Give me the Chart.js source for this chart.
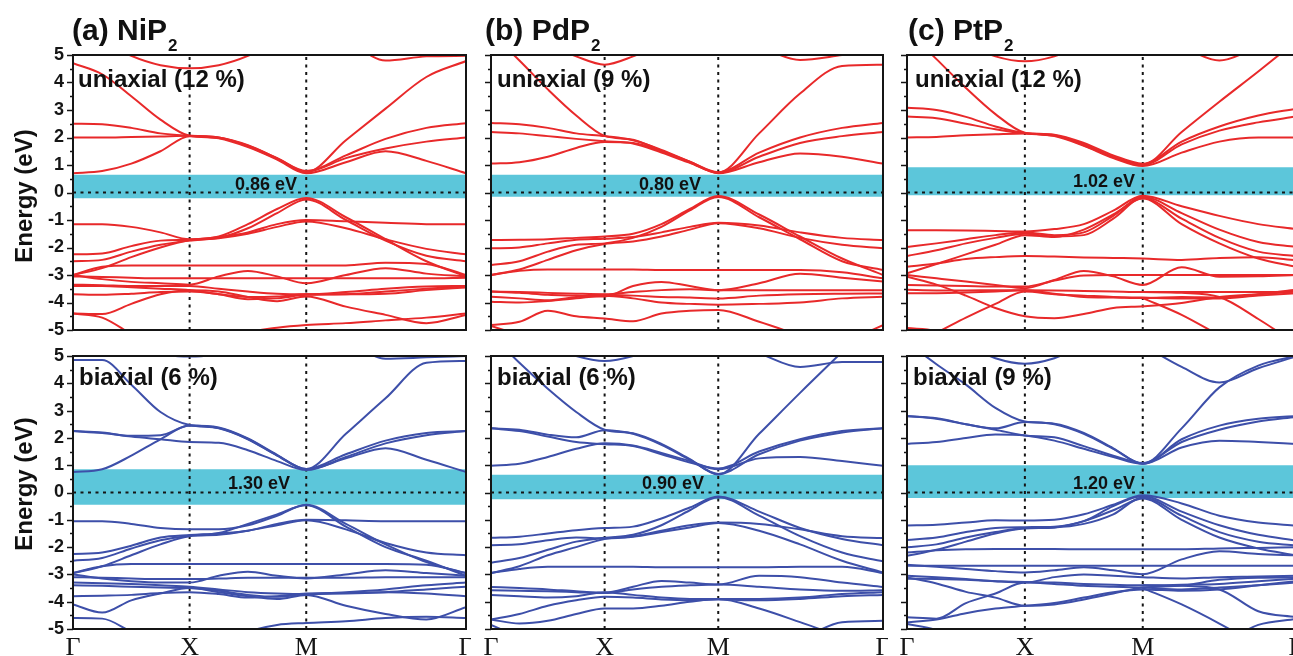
<!DOCTYPE html>
<html>
<head>
<meta charset="utf-8">
<script src="https://cdn.jsdelivr.net/npm/chart.js@4.4.0/dist/chart.umd.min.js"></script>
<style>
  body { margin: 0; width: 1293px; height: 656px; overflow: hidden; background: #fff; position: relative;
         font-family: 'Liberation Sans', Arial, sans-serif; color: #111; }
  canvas { position: absolute; }
  .lbl { position: absolute; font-weight: bold; line-height: 1; white-space: nowrap; }
  .title { font-size: 30px; }
  .title span { font-size: 17px; position: relative; top: 11px; margin-left: 1px; }
  .strain { font-size: 24px; }
  .gap { font-size: 18px; }
  .ylab { font-size: 24px; transform: translate(-50%, -50%) rotate(-90deg); }
</style>
</head>
<body>
<canvas id="niUni"></canvas>
<canvas id="niBi"></canvas>
<canvas id="pdUni"></canvas>
<canvas id="pdBi"></canvas>
<canvas id="ptUni"></canvas>
<canvas id="ptBi"></canvas>

<div class="lbl title" style="left:72px;top:15px">(a) NiP<span>2</span></div>
<div class="lbl title" style="left:485px;top:15px">(b) PdP<span>2</span></div>
<div class="lbl title" style="left:908px;top:15px">(c) PtP<span>2</span></div>
<div class="lbl ylab" style="left:24px;top:196px">Energy (eV)</div>
<div class="lbl ylab" style="left:24px;top:484px">Energy (eV)</div>

<script>
// k-path positions (Γ, X, M, Γ) for each compound
const kNi = [0, 0.25, 0.5, 0.75, 1, 1.25, 1.5, 1.75, 2, 2.34, 2.68, 3.03, 3.37]
const kPd = [0, 0.25, 0.5, 0.75, 1, 1.25, 1.5, 1.75, 2, 2.36, 2.72, 3.09, 3.45]
const kPt = [0, 0.25, 0.5, 0.75, 1, 1.25, 1.5, 1.75, 2, 2.33, 2.65, 2.98, 3.30]
const kLabels = ['Γ', 'X', 'M', 'Γ']

// energies (eV) of each band at the k points above
const niUniBands = [
  [0.70, 0.78, 1.05, 1.50, 2.05, 1.97, 1.65, 1.20, 0.70, 1.10, 1.50, 1.15, 0.70],
  [2.00, 2.00, 2.02, 2.04, 2.06, 2.00, 1.70, 1.25, 0.76, 1.25, 1.60, 1.85, 2.00],
  [2.50, 2.48, 2.35, 2.15, 2.06, 2.00, 1.72, 1.25, 0.78, 1.35, 1.95, 2.35, 2.52],
  [4.70, 4.30, 3.50, 2.65, 2.06, 1.98, 1.68, 1.22, 0.74, 1.90, 3.05, 4.20, 4.78],
  [null, 5.52, 4.97, 4.63, 4.52, 4.63, 4.97, 5.52, null, null, null, null, null],
  [null, null, null, null, null, null, null, null, null, 5.60, 4.80, 4.95, 4.97],
  [-1.15, -1.15, -1.25, -1.45, -1.70, -1.60, -1.15, -0.60, -0.20, -0.90, -1.70, -2.50, -3.05],
  [-2.25, -2.22, -1.95, -1.75, -1.72, -1.62, -1.45, -1.15, -1.00, -1.05, -1.10, -1.15, -1.15],
  [-2.50, -2.45, -2.15, -1.90, -1.75, -1.65, -1.30, -0.75, -0.25, -1.00, -1.75, -2.30, -2.50],
  [-3.00, -2.75, -2.35, -2.00, -1.74, -1.66, -1.50, -1.25, -1.05, -1.30, -1.70, -2.05, -2.25],
  [-3.00, -2.70, -2.65, -2.65, -2.65, -2.65, -2.65, -2.65, -2.65, -2.65, -2.55, -2.60, -3.00],
  [-3.00, -3.15, -3.25, -3.30, -3.35, -3.05, -2.85, -3.05, -3.30, -3.00, -2.75, -2.95, -3.05],
  [-3.05, -3.07, -3.10, -3.12, -3.12, -3.12, -3.12, -3.12, -3.12, -3.12, -3.12, -3.12, -3.10],
  [-3.35, -3.37, -3.40, -3.40, -3.40, -3.50, -3.60, -3.68, -3.70, -3.62, -3.50, -3.42, -3.40],
  [-3.40, -3.40, -3.45, -3.50, -3.55, -3.70, -3.80, -3.78, -3.70, -3.70, -3.68, -3.55, -3.45],
  [-3.70, -3.72, -3.68, -3.62, -3.60, -3.70, -3.88, -3.85, -3.72, -3.70, -3.60, -3.50, -3.40],
  [-4.40, -4.42, -4.05, -3.70, -3.55, -3.60, -3.80, -3.95, -3.78, -4.15, -4.45, -4.75, -4.45],
  [-4.40, -4.55, -5.15, null, null, null, null, null, null, null, null, null, null],
  [null, null, null, null, null, -5.60, -5.10, -4.92, -4.82, -4.75, -4.65, -4.55, -4.40]
]
const niBiBands = [
  [0.75, 0.85, 1.35, 1.95, 2.45, 2.35, 1.95, 1.35, 0.85, 1.25, 1.62, 1.20, 0.75],
  [2.25, 2.20, 2.05, 1.95, 1.85, 1.82, 1.55, 1.15, 0.82, 1.30, 1.80, 2.10, 2.25],
  [2.25, 2.18, 2.08, 2.10, 2.45, 2.38, 1.98, 1.38, 0.86, 1.40, 1.90, 2.18, 2.25],
  [4.85, 4.85, 3.95, 2.95, 2.47, 2.36, 1.96, 1.36, 0.86, 2.15, 3.45, 4.75, 4.82],
  [null, null, 5.60, 5.10, 4.98, 5.10, 5.60, null, null, null, null, null, null],
  [null, null, null, null, null, null, null, null, null, 5.60, 4.90, 4.95, 5.00],
  [-1.05, -1.05, -1.15, -1.30, -1.35, -1.35, -1.20, -0.85, -0.45, -1.15, -1.90, -2.55, -2.95],
  [-2.25, -2.20, -1.95, -1.65, -1.56, -1.50, -1.40, -1.15, -1.00, -1.02, -1.05, -1.05, -1.05],
  [-2.50, -2.40, -2.05, -1.75, -1.58, -1.48, -1.15, -0.80, -0.47, -1.25, -2.00, -2.50, -3.05],
  [-2.95, -2.70, -2.30, -1.90, -1.60, -1.55, -1.40, -1.20, -1.02, -1.35, -1.85, -2.20, -2.30],
  [-2.95, -2.70, -2.62, -2.62, -2.62, -2.62, -2.62, -2.62, -2.62, -2.62, -2.62, -2.65, -2.95],
  [-3.00, -3.15, -3.25, -3.30, -3.30, -3.05, -2.90, -3.05, -3.15, -3.00, -2.85, -2.95, -3.05],
  [-3.10, -3.12, -3.15, -3.17, -3.17, -3.15, -3.12, -3.12, -3.12, -3.12, -3.10, -3.10, -3.10],
  [-3.30, -3.32, -3.35, -3.40, -3.45, -3.55, -3.65, -3.70, -3.72, -3.65, -3.55, -3.40, -3.30],
  [-3.40, -3.42, -3.45, -3.48, -3.50, -3.60, -3.75, -3.82, -3.72, -3.70, -3.65, -3.55, -3.45],
  [-3.80, -3.78, -3.75, -3.68, -3.65, -3.72, -3.85, -3.80, -3.70, -3.68, -3.65, -3.70, -3.80],
  [-4.10, -4.40, -3.95, -3.70, -3.50, -3.65, -3.80, -3.90, -3.75, -4.15, -4.45, -4.65, -4.20],
  [-4.60, -4.62, -5.10, null, null, null, null, null, null, null, null, null, null],
  [null, null, null, null, null, -5.60, -5.10, -4.85, -4.78, -4.72, -4.60, -4.55, -4.60]
]
const pdUniBands = [
  [1.05, 1.10, 1.30, 1.62, 1.84, 1.80, 1.50, 1.10, 0.70, 1.10, 1.42, 1.30, 1.05],
  [2.20, 2.15, 2.05, 1.95, 1.86, 1.78, 1.45, 1.08, 0.72, 1.30, 1.80, 2.05, 2.20],
  [2.53, 2.48, 2.35, 2.15, 2.05, 1.90, 1.55, 1.12, 0.74, 1.45, 2.00, 2.35, 2.53],
  [5.80, 4.80, 3.75, 2.80, 2.06, 1.92, 1.52, 1.12, 0.73, 2.15, 3.60, 4.60, 4.65],
  [null, null, 5.40, 4.95, 4.65, 4.95, 5.40, null, null, null, null, null, null],
  [null, null, null, null, null, null, null, null, null, 5.30, 4.82, 5.00, 5.20],
  [-1.73, -1.72, -1.70, -1.65, -1.60, -1.50, -1.15, -0.60, -0.13, -0.80, -1.60, -2.40, -3.00],
  [-2.03, -2.00, -1.85, -1.72, -1.68, -1.62, -1.45, -1.25, -1.10, -1.20, -1.45, -1.65, -1.73],
  [-2.64, -2.50, -2.15, -1.90, -1.85, -1.65, -1.25, -0.65, -0.16, -0.90, -1.70, -2.50, -2.82],
  [-3.00, -2.80, -2.45, -2.10, -1.87, -1.78, -1.60, -1.35, -1.12, -1.30, -1.65, -1.90, -2.03],
  [-3.00, -2.85, -2.80, -2.80, -2.80, -2.80, -2.82, -2.82, -2.82, -2.82, -2.82, -2.90, -3.12],
  [-3.60, -3.65, -3.72, -3.75, -3.78, -3.40, -3.25, -3.40, -3.55, -3.30, -2.95, -3.10, -3.24],
  [-3.60, -3.62, -3.65, -3.68, -3.70, -3.62, -3.55, -3.52, -3.55, -3.55, -3.55, -3.55, -3.55],
  [-3.79, -3.85, -3.92, -3.80, -3.72, -3.75, -3.80, -3.82, -3.85, -3.75, -3.70, -3.68, -3.67],
  [-3.97, -4.00, -3.95, -3.85, -3.75, -3.85, -4.00, -4.05, -4.08, -4.05, -4.00, -3.85, -3.79],
  [-4.82, -4.70, -4.30, -4.50, -4.58, -4.68, -4.40, -4.30, -4.27, -4.70, -5.20, null, null],
  [-4.85, -5.20, -5.70, null, null, null, null, null, null, null, null, -5.50, -4.82]
]
const pdBiBands = [
  [0.98, 1.05, 1.30, 1.60, 1.80, 1.72, 1.45, 1.15, 0.85, 1.25, 1.30, 1.15, 0.98],
  [2.35, 2.25, 2.05, 1.85, 1.77, 1.70, 1.40, 1.10, 0.88, 1.50, 1.95, 2.25, 2.35],
  [2.35, 2.30, 2.12, 2.02, 2.28, 2.15, 1.75, 1.20, 0.68, 1.40, 1.90, 2.20, 2.35],
  [5.80, 4.75, 3.80, 2.95, 2.30, 2.17, 1.78, 1.22, 0.66, 2.15, 3.65, 5.15, null],
  [null, null, 5.40, 5.00, 4.82, 5.00, 5.40, null, null, null, null, null, null],
  [null, null, null, null, null, null, null, null, null, 5.10, 4.60, 4.78, 4.78],
  [-1.66, -1.62, -1.50, -1.38, -1.30, -1.25, -0.95, -0.55, -0.15, -0.70, -1.30, -1.70, -1.93],
  [-1.93, -1.90, -1.75, -1.65, -1.68, -1.60, -1.40, -1.20, -1.10, -1.15, -1.35, -1.60, -1.67],
  [-2.57, -2.40, -2.10, -1.80, -1.66, -1.55, -1.20, -0.65, -0.17, -0.85, -1.60, -2.20, -2.52],
  [-2.95, -2.70, -2.30, -2.00, -1.70, -1.62, -1.45, -1.28, -1.12, -1.40, -1.90, -2.50, -2.93],
  [-2.95, -2.80, -2.72, -2.72, -2.72, -2.72, -2.74, -2.74, -2.74, -2.74, -2.72, -2.72, -2.95],
  [-3.46, -3.50, -3.55, -3.62, -3.67, -3.45, -3.24, -3.30, -3.37, -3.05, -3.10, -3.30, -3.46],
  [-3.58, -3.60, -3.62, -3.65, -3.68, -3.55, -3.45, -3.40, -3.37, -3.45, -3.55, -3.60, -3.58],
  [-3.75, -3.80, -3.85, -3.80, -3.65, -3.75, -3.85, -3.90, -3.90, -3.90, -3.85, -3.72, -3.65],
  [-4.65, -4.80, -4.70, -4.45, -4.25, -4.25, -4.15, -4.00, -3.90, -4.25, -4.75, -5.30, null],
  [-4.65, -4.45, -4.15, -3.95, -3.82, -3.85, -3.92, -3.95, -3.92, -3.95, -3.90, -3.80, -3.75],
  [-4.85, -5.30, null, null, null, null, null, null, null, null, -5.40, -4.75, -4.70]
]
const ptUniBands = [
  [2.00, 2.02, 2.08, 2.12, 2.15, 2.05, 1.70, 1.25, 0.96, 1.45, 1.85, 2.00, 2.00],
  [2.76, 2.70, 2.50, 2.30, 2.15, 2.08, 1.75, 1.30, 1.00, 1.75, 2.25, 2.55, 2.76],
  [3.08, 3.00, 2.75, 2.40, 2.16, 2.10, 1.80, 1.35, 1.05, 1.85, 2.40, 2.80, 3.05],
  [5.90, 4.85, 3.80, 2.85, 2.17, 2.07, 1.72, 1.28, 1.02, 2.20, 3.30, 4.40, 5.50],
  [null, null, 5.40, 4.95, 4.77, 4.95, 5.40, null, null, null, null, null, null],
  [null, null, null, null, null, null, null, null, null, 5.30, 4.80, 5.30, null],
  [-1.37, -1.37, -1.38, -1.40, -1.42, -1.33, -1.15, -0.66, -0.12, -0.50, -0.85, -1.15, -1.33],
  [-1.98, -1.85, -1.70, -1.55, -1.45, -1.55, -1.45, -0.85, -0.16, -0.75, -1.35, -1.80, -1.98],
  [-2.31, -2.10, -1.85, -1.65, -1.50, -1.60, -1.55, -0.95, -0.20, -0.95, -1.65, -2.15, -2.31],
  [-2.94, -2.60, -2.25, -1.90, -1.55, -1.62, -1.35, -0.80, -0.22, -1.15, -1.85, -2.40, -2.70],
  [-2.70, -2.58, -2.42, -2.35, -2.31, -2.33, -2.36, -2.38, -2.40, -2.45, -2.38, -2.35, -2.46],
  [-3.00, -3.12, -3.24, -3.36, -3.48, -3.18, -2.85, -3.05, -3.36, -2.72, -3.06, -3.05, -3.00],
  [-3.36, -3.38, -3.40, -3.42, -3.42, -3.20, -3.02, -3.00, -3.00, -3.00, -3.00, -3.00, -3.00],
  [-3.54, -3.56, -3.56, -3.55, -3.55, -3.68, -3.80, -3.82, -3.84, -3.80, -3.82, -3.70, -3.54],
  [-3.66, -3.66, -3.64, -3.60, -3.55, -3.56, -3.58, -3.60, -3.62, -3.62, -3.62, -3.62, -3.60],
  [-3.06, -3.35, -3.75, -4.20, -4.50, -4.57, -4.42, -4.20, -4.14, -4.02, -3.80, -3.70, -3.60],
  [-5.60, -5.10, -4.55, -4.05, -3.60, -3.70, -3.75, -3.80, -3.82, -3.85, -3.85, -3.75, -3.66],
  [-4.93, -5.05, -5.60, null, null, null, null, null, null, null, null, null, null],
  [null, null, null, null, null, null, null, null, -3.84, -4.45, -5.20, null, null],
  [null, null, null, null, null, null, null, null, -3.62, -3.65, -3.80, -4.60, -5.50]
]
const ptBiBands = [
  [1.78, 1.85, 2.00, 2.12, 2.09, 1.90, 1.60, 1.30, 1.05, 1.65, 1.90, 1.85, 1.78],
  [2.79, 2.72, 2.50, 2.30, 2.09, 2.02, 1.70, 1.35, 1.08, 1.85, 2.30, 2.60, 2.77],
  [2.80, 2.70, 2.50, 2.35, 2.58, 2.50, 2.15, 1.60, 1.05, 1.95, 2.45, 2.70, 2.80],
  [5.50, 4.70, 3.95, 3.10, 2.60, 2.52, 2.18, 1.62, 1.06, 2.35, 3.85, 4.65, 5.00],
  [null, null, 5.40, 4.92, 4.72, 4.92, 5.40, null, null, null, null, null, null],
  [null, null, null, null, null, null, null, null, 5.40, 4.60, 4.03, 4.55, 4.98],
  [-1.21, -1.18, -1.10, -1.02, -1.03, -1.00, -0.80, -0.45, -0.10, -0.40, -0.85, -1.10, -1.21],
  [-1.74, -1.65, -1.45, -1.30, -1.27, -1.25, -1.05, -0.50, -0.13, -0.70, -1.20, -1.55, -1.76],
  [-2.01, -1.90, -1.65, -1.45, -1.30, -1.28, -1.15, -0.80, -0.18, -0.85, -1.45, -1.80, -1.94],
  [-2.32, -2.10, -1.80, -1.50, -1.32, -1.28, -1.05, -0.65, -0.22, -1.00, -1.65, -2.05, -2.30],
  [-2.20, -2.12, -2.08, -2.07, -2.07, -2.07, -2.08, -2.08, -2.08, -2.08, -2.05, -2.03, -2.01],
  [-2.65, -2.72, -2.80, -2.88, -2.93, -2.85, -2.74, -2.85, -2.99, -2.45, -2.15, -2.25, -2.30],
  [-2.68, -2.68, -2.68, -2.68, -2.68, -2.68, -2.68, -2.68, -2.68, -2.68, -2.68, -2.68, -2.68],
  [-3.11, -3.33, -3.64, -3.85, -4.15, -4.10, -3.92, -3.70, -3.48, -3.41, -3.20, -3.12, -3.11],
  [-3.05, -3.10, -3.17, -3.25, -3.30, -3.10, -3.00, -3.05, -3.10, -3.15, -3.10, -3.08, -3.05],
  [-3.16, -3.17, -3.20, -3.25, -3.28, -3.30, -3.35, -3.38, -3.40, -3.38, -3.35, -3.25, -3.16],
  [-4.57, -4.62, -4.05, -3.70, -3.30, -3.35, -3.42, -3.45, -3.48, -3.55, -3.48, -3.40, -3.30],
  [-4.76, -4.65, -4.42, -4.25, -4.15, -4.05, -3.85, -3.65, -3.55, -3.60, -3.55, -3.40, -3.25],
  [-4.82, -5.05, -5.60, null, null, null, null, null, null, null, null, null, null],
  [null, null, null, null, null, null, null, null, -3.50, -4.10, -4.80, -5.60, null],
  [null, null, null, null, null, null, null, null, -3.40, -3.42, -3.55, -4.35, -4.57],
  [null, null, null, null, null, null, null, null, null, null, -5.60, -4.85, -4.63]
]

// band gap windows [valence top, conduction bottom] and labels
const niUniGap = [-0.21, 0.65]
const niBiGap = [-0.45, 0.85]
const pdUniGap = [-0.15, 0.65]
const pdBiGap = [-0.25, 0.65]
const ptUniGap = [-0.10, 0.92]
const ptBiGap = [-0.20, 1.00]
const gapTexts = ['0.86 eV', '1.30 eV', '0.80 eV', '0.90 eV', '1.02 eV', '1.20 eV']
const strainTexts = ['uniaxial (12 %)', 'biaxial (6 %)', 'uniaxial (9 %)', 'biaxial (6 %)', 'uniaxial (12 %)', 'biaxial (9 %)']

const RED = '#e8292a'
const BLUE = '#3d4fa9'
const CYAN = '#5cc6da'
const INK = '#151515'

// frame and outward y ticks (minor ticks shorter)
const framePlugin = {
  id: 'frame',
  afterDraw(chart) {
    const { ctx, chartArea: a } = chart
    const y = chart.scales.y
    ctx.save()
    ctx.strokeStyle = INK
    ctx.lineWidth = 1.5
    y.ticks.forEach(t => {
      const py = Math.round(y.getPixelForValue(t.value)) + 0.5
      const len = Number.isInteger(t.value) ? 6 : 3
      ctx.beginPath()
      ctx.moveTo(a.left - len, py)
      ctx.lineTo(a.left, py)
      ctx.stroke()
    })
    ctx.lineWidth = 2
    ctx.strokeRect(a.left, a.top, a.right - a.left, a.bottom - a.top)
    ctx.restore()
  }
}

function makePanel(id, box, k, bands, gap, color, showY, showX) {
  const xmax = k[k.length - 1]
  const el = document.getElementById(id)
  el.width = box.w + 65
  el.height = box.h + 45
  el.style.left = (box.l - 60) + 'px'
  el.style.top = (box.t - 15) + 'px'

  const dotted = { borderColor: INK, borderWidth: 2, borderDash: [3, 4.5], pointRadius: 0, fill: false, order: 2 }
  const datasets = [
    { data: [{ x: 0, y: gap[1] }, { x: xmax, y: gap[1] }], fill: { value: gap[0] },
      backgroundColor: CYAN, borderWidth: 0, pointRadius: 0, order: 3 },
    { ...dotted, data: [{ x: 0, y: 0 }, { x: xmax, y: 0 }] },
    { ...dotted, data: [{ x: k[4], y: -5 }, { x: k[4], y: 5 }] },
    { ...dotted, data: [{ x: k[8], y: -5 }, { x: k[8], y: 5 }] }
  ]
  bands.forEach(b => datasets.push({
    data: k.map((x, i) => ({ x, y: b[i] })),
    borderColor: color, borderWidth: 2, pointRadius: 0, fill: false,
    cubicInterpolationMode: 'monotone', spanGaps: false, order: 1
  }))

  return new Chart(el, {
    type: 'line',
    data: { datasets },
    options: {
      responsive: false,
      animation: false,
      devicePixelRatio: 1,
      events: [],
      layout: { padding: { top: 15, right: 5, left: 0, bottom: 0 } },
      plugins: { legend: { display: false }, tooltip: { enabled: false } },
      scales: {
        x: {
          type: 'linear', min: 0, max: xmax,
          grid: { display: false, drawTicks: false }, border: { display: false },
          afterBuildTicks: s => { s.ticks = [0, 4, 8, 12].map(i => ({ value: k[i] })) },
          afterFit: s => { s.height = 30; s.paddingLeft = 0; s.paddingRight = 0 },
          ticks: {
            display: showX, autoSkip: false, maxRotation: 0, padding: 4, color: INK,
            font: { family: "'Liberation Serif', 'Times New Roman', serif", size: 26 },
            callback: (v, i) => kLabels[i]
          }
        },
        y: {
          min: -5, max: 5,
          grid: { display: false, drawTicks: false }, border: { display: false },
          afterFit: s => { s.width = 60; s.paddingTop = 0; s.paddingBottom = 0 },
          ticks: {
            stepSize: 0.5, autoSkip: false, padding: 9, color: INK,
            font: { family: "'Liberation Sans', Arial, sans-serif", size: 18, weight: 'bold' },
            callback: v => (showY && Number.isInteger(v)) ? String(v) : ''
          }
        }
      }
    },
    plugins: [framePlugin]
  })
}

const topRow = { t: 55, h: 275 }
const botRow = { t: 356, h: 273 }
const cols = [{ l: 73, w: 393 }, { l: 491, w: 392 }, { l: 907, w: 389 }]

makePanel('niUni', { ...cols[0], ...topRow }, kNi, niUniBands, niUniGap, RED, true, false)
makePanel('niBi', { ...cols[0], ...botRow }, kNi, niBiBands, niBiGap, BLUE, true, true)
makePanel('pdUni', { ...cols[1], ...topRow }, kPd, pdUniBands, pdUniGap, RED, false, false)
makePanel('pdBi', { ...cols[1], ...botRow }, kPd, pdBiBands, pdBiGap, BLUE, false, true)
makePanel('ptUni', { ...cols[2], ...topRow }, kPt, ptUniBands, ptUniGap, RED, false, false)
makePanel('ptBi', { ...cols[2], ...botRow }, kPt, ptBiBands, ptBiGap, BLUE, false, true)

// strain and gap labels
const strainPos = [[78, 67], [79, 365], [497, 67], [497, 365], [915, 67], [913, 365]]
const gapPos = [[235, 175], [228, 474], [639, 175], [642, 474], [1073, 172], [1073, 474]]
strainTexts.forEach((t, i) => {
  const d = document.createElement('div')
  d.className = 'lbl strain'
  d.textContent = t
  d.style.left = strainPos[i][0] + 'px'
  d.style.top = strainPos[i][1] + 'px'
  document.body.appendChild(d)
})
gapTexts.forEach((t, i) => {
  const d = document.createElement('div')
  d.className = 'lbl gap'
  d.textContent = t
  d.style.left = gapPos[i][0] + 'px'
  d.style.top = gapPos[i][1] + 'px'
  document.body.appendChild(d)
})
</script>
</body>
</html>
